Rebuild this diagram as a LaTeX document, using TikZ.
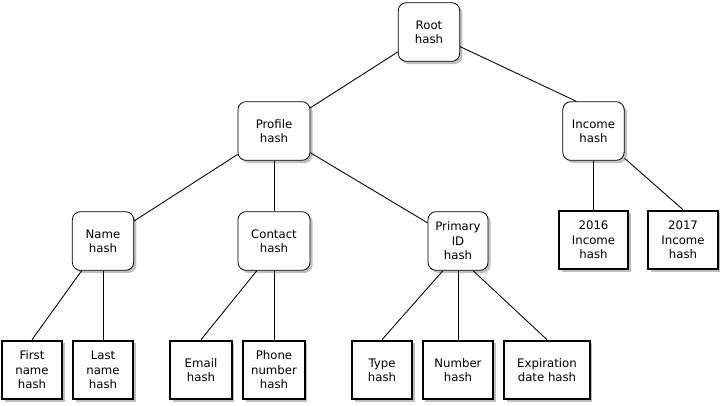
\documentclass[tikz,border=0pt]{standalone}
\usepackage{fontspec}
\setmainfont{DejaVu Sans}
\usetikzlibrary{shadows}

\begin{document}
\begin{tikzpicture}[x=.75pt, y=-.75pt,
  hash/.style = {draw, fill=white, rounded corners=6pt, line width=.6pt,
    align=center, inner sep=0pt, minimum height=44pt,
    font=\fontsize{8.8}{10.8}\selectfont,
    drop shadow={shadow xshift=2pt, shadow yshift=-2pt, fill=black!25, opacity=1}},
  leaf/.style = {draw, fill=white, line width=1.5pt,
    align=center, inner sep=0pt, minimum height=44pt,
    font=\fontsize{8.8}{10.8}\selectfont,
    drop shadow={shadow xshift=2pt, shadow yshift=-2pt, fill=black!25, opacity=1}},
  link/.style = {line width=.65pt}]
\useasboundingbox (0,0) rectangle (721,405);
\node[hash, minimum width=46pt] (root) at (429,32) {Root\\hash};
\node[hash, minimum width=54pt] (profile) at (274,131) {Profile\\hash};
\node[hash, minimum width=46pt] (income) at (593.5,131) {Income\\hash};
\node[hash, minimum width=46pt] (name) at (103,241) {Name\\hash};
\node[hash, minimum width=54pt] (contact) at (274,241) {Contact\\hash};
\node[hash, minimum width=45pt] (primary) at (458,241) {Primary\\ID\\hash};
\node[leaf, minimum width=52pt] (inc16) at (593.5,240) {2016\\Income\\hash};
\node[leaf, minimum width=52pt] (inc17) at (683,240) {2017\\Income\\hash};
\node[leaf, minimum width=45pt] (first) at (32,370) {First\\name\\hash};
\node[leaf, minimum width=45pt] (last) at (103,370) {Last\\name\\hash};
\node[leaf, minimum width=46pt] (email) at (201,370) {Email\\hash};
\node[leaf, minimum width=46pt] (phone) at (274,370) {Phone\\number\\hash};
\node[leaf, minimum width=45pt] (type) at (382,370) {Type\\hash};
\node[leaf, minimum width=53pt] (number) at (458,370) {Number\\hash};
\node[leaf, minimum width=64pt] (expiry) at (547,370) {Expiration\\date hash};
\draw[link] (root) -- (profile);
\draw[link] (root) -- (income.120);
\draw[link] (profile) -- (name);
\draw[link] (profile) -- (contact);
\draw[link] (profile) -- (primary);
\draw[link] (income) -- (inc16);
\draw[link] (income) -- (inc17.north);
\draw[link] (name) -- (first.north);
\draw[link] (name) -- (last);
\draw[link] (contact.240) -- (email.north);
\draw[link] (contact) -- (phone);
\draw[link] (primary.243) -- (type.north);
\draw[link] (primary) -- (number);
\draw[link] (primary.297) -- (expiry.north);
\end{tikzpicture}
\end{document}
